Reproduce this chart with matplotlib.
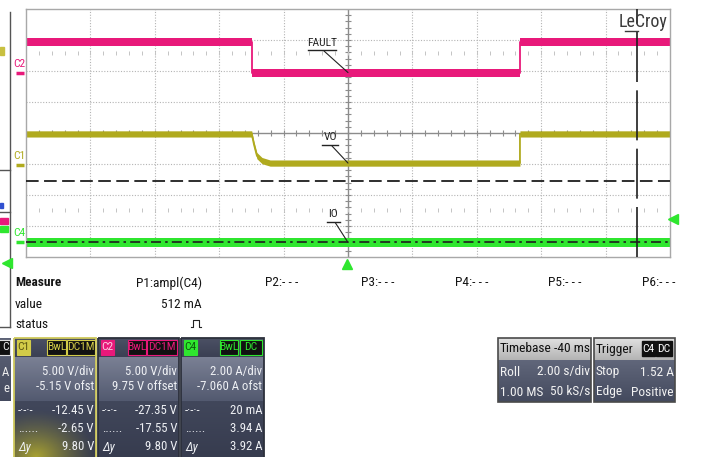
import numpy as np
import matplotlib
matplotlib.use('Agg')
from matplotlib import pyplot as plt
from matplotlib import font_manager
from matplotlib.colors import to_rgb
from matplotlib.patches import Rectangle
from matplotlib.transforms import offset_copy

# narrow face if there is one, otherwise shrink the regular one
installed = {f.name for f in font_manager.fontManager.ttflist}
if 'Liberation Sans Narrow' in installed:
    face, k = 'Liberation Sans Narrow', 0.95
elif 'Roboto Condensed' in installed:
    face, k = 'Roboto Condensed', 0.92
else:
    face, k = 'Liberation Sans', 0.78
plt.rcParams['font.family'] = [face, 'DejaVu Sans']

# channel setup: (units per div, offset)
c1_scale, c1_offset = 5.00, -5.15
c2_scale, c2_offset = 5.00, 9.75
c4_scale, c4_offset = 2.00, -7.060

# C2 = FAULT [V], roll mode, 2 s/div
c2_t = [-20.0, -12.99, -12.99, -4.66, -4.66, 0.0]
c2_v = [5.0, 5.0, 0.0, 0.0, 5.0, 5.0]

# C1 = VO [V]
c1_t = [-20.0, -12.99, -12.92, -12.83, -12.67, -12.42, -4.66, -4.66, 0.0]
c1_v = [5.0, 5.0, 3.3, 1.5, 0.7, 0.3, 0.3, 5.0, 5.0]

# C4 = IO [A]
c4_t = [-20.0, 0.0]
c4_v = [0.0, 0.0]

c1_cursors = [-12.45, -2.65]
t_cursor = -1.02
trig_level = 1.52
trig_time = -10.04

pink = '#e8197a'
olive = '#b0aa1e'
green = '#2fe62f'


def to_div(v, scale, offset):
    return (np.asarray(v, dtype=float) + offset) / scale


W, H = 720, 457
fig = plt.figure(figsize=(7.2, 4.57), dpi=100)

ax = fig.add_axes([26 / W, 1 - 257 / H, 644 / W, 248 / H])
ax.set_xlim(-20, 0)
ax.set_ylim(-4, 4)
ax.set_xticks([])
ax.set_yticks([])
for s in ax.spines.values():
    s.set_color('#a8a8a8')
    s.set_linewidth(1.0)

# graticule
for x in np.arange(-18, 0, 2):
    if x == -10:
        ax.axvline(x, color='#8c8c8c', lw=1.0, zorder=1)
    else:
        ax.axvline(x, color='#b4b4b4', lw=0.8, ls=(0, (1, 1.5)), zorder=1)
for y in range(-3, 4):
    if y == 0:
        ax.axhline(y, color='#8c8c8c', lw=1.0, zorder=1)
    else:
        ax.axhline(y, color='#b4b4b4', lw=0.8, ls=(0, (1, 1.5)), zorder=1)
tx = np.arange(-20, 0.01, 0.4)
ax.plot(tx, np.zeros_like(tx), ls='none', marker='|', ms=5, mew=0.8, color='#8c8c8c', zorder=1)
ty = np.arange(-4, 4.01, 0.2)
ax.plot(np.full_like(ty, -10), ty, ls='none', marker='_', ms=5, mew=0.8, color='#8c8c8c', zorder=1)
for yr in [2.59, -2.47]:
    ax.plot(tx, np.full_like(tx, yr), ls='none', marker='|', ms=3, mew=0.7, color='#c4c4c4', zorder=1)


def draw_trace(t, v, scale, offset, color, half):
    d = to_div(v, scale, offset)
    ax.fill_between(t, d - half, d + half, color=color, lw=0, zorder=2)
    ax.plot(t, d, color=color, lw=1.3, zorder=2)


draw_trace(c2_t, c2_v, c2_scale, c2_offset, pink, 0.13)
draw_trace(c1_t, c1_v, c1_scale, c1_offset, olive, 0.10)
draw_trace(c4_t, c4_v, c4_scale, c4_offset, green, 0.14)

# cursors
ax.axhline(to_div(c1_cursors[0], c1_scale, c1_offset), color='#1e1e1e', lw=1.2,
           ls=(0, (6, 2.5, 1.5, 2.5)), zorder=3)
ax.axhline(to_div(c1_cursors[1], c1_scale, c1_offset), color='#1e1e1e', lw=1.3,
           ls=(0, (7, 3)), zorder=3)
ax.axvline(t_cursor, color='#1e1e1e', lw=1.2, ls=(0, (30, 5)), zorder=3)

# trigger markers
tr_right = offset_copy(ax.transData, fig=fig, x=3, y=0, units='dots')
ax.plot([0.0], [to_div(trig_level, c4_scale, c4_offset)], marker='<', ms=7, color=green,
        transform=tr_right, clip_on=False, zorder=4)
tr_down = offset_copy(ax.transData, fig=fig, x=0, y=-7, units='dots')
ax.plot([trig_time], [-4.0], marker='^', ms=7, color=green, transform=tr_down, clip_on=False, zorder=4)

# channel ground markers and names
for name, sc, off, col in [('C2', c2_scale, c2_offset, pink), ('C1', c1_scale, c1_offset, olive),
                           ('C4', c4_scale, c4_offset, green)]:
    z = to_div(0.0, sc, off)
    tr_m = offset_copy(ax.transData, fig=fig, x=-6, y=0, units='dots')
    ax.plot([-20.0], [z], marker='_', ms=6, mew=2.5, color=col, transform=tr_m, clip_on=False)
    ax.annotate(name, xy=(-20.0, z), xytext=(-7, 9), textcoords='offset pixels', ha='center',
                va='center', fontsize=9 * k, color=col, annotation_clip=False)

# overlay in pixel coordinates
ov = fig.add_axes([0, 0, 1, 1], zorder=5)
ov.patch.set_visible(False)
ov.axis('off')


def vgrad(x0, x1, y0, y1, c_top, c_bot):
    a = np.array(to_rgb(c_top))
    b = np.array(to_rgb(c_bot))
    g = np.linspace(0, 1, 32)[:, None]
    img = (a * (1 - g) + b * g)[:, None, :]
    ov.imshow(img, extent=(x0, x1, y1, y0), origin='upper', aspect='auto',
              interpolation='bilinear', zorder=1)


# trace labels with leaders
for label, tx0, ty0, tip, (ux0, ux1, uy) in [
        ('FAULT', 322, 43, (-10, to_div(0.0, c2_scale, c2_offset)), (308, 336, 50)),
        ('VO', 330, 137, (-10, to_div(0.3, c1_scale, c1_offset)), (322, 338, 145)),
        ('IO', 333, 214, (-10, to_div(0.0, c4_scale, c4_offset)), (327, 340, 222))]:
    ov.text(tx0, ty0, label, ha='center', va='center', fontsize=9 * k, color='#222')
    ov.plot([ux0, ux1], [uy, uy], color='#222', lw=1.0)
    ov.annotate('', xy=tip, xycoords=ax.transData, xytext=((ux0 + ux1) / 2 + 2, uy + 1),
                textcoords='data', arrowprops=dict(arrowstyle='-', color='#222', lw=0.8,
                                                   shrinkA=0, shrinkB=0))

ov.text(668, 22, 'LeCroy', ha='right', va='center', fontsize=14 * k, color='#3a3a3a')
ov.plot([625, 638], [31, 31], color='#3a3a3a', lw=1.0)

# left neighbouring window
ov.plot([10, 10], [12, 327], color='#555', lw=1.0)
for yy in [170, 212, 327]:
    ov.plot([0, 10], [yy, yy], color='#555', lw=1.0)
ov.add_patch(Rectangle((0, 47), 4, 8, color='#c8c040', zorder=2))
ov.add_patch(Rectangle((0, 203), 3, 5, color='#3050d0', zorder=2))
ov.add_patch(Rectangle((0, 218), 8, 6, color=pink, zorder=2))
ov.add_patch(Rectangle((0, 226), 8, 6, color=green, zorder=2))
ov.plot([7], [263], marker='<', ms=7, color=green)

# measurement table
fs_m = 10.5 * k
ov.text(15, 283, 'Measure', fontsize=fs_m, fontweight='bold', va='center', color='#151515')
ov.text(15, 304, 'value', fontsize=fs_m, va='center', color='#151515')
ov.text(15, 325, 'status', fontsize=fs_m, va='center', color='#151515')
ov.text(202, 283, 'P1:ampl(C4)', fontsize=fs_m, va='center', ha='right', color='#151515')
ov.text(202, 304, '512 mA', fontsize=fs_m, va='center', ha='right', color='#151515')
ov.plot([191, 193, 193, 199, 199, 201], [327, 327, 320, 320, 327, 327], color='#222', lw=0.8)
for px, lab in [(265, 'P2:- - -'), (361, 'P3:- - -'), (455, 'P4:- - -'), (548, 'P5:- - -'), (642, 'P6:- - -')]:
    ov.text(px, 283, lab, fontsize=fs_m, va='center', color='#151515')

# channel descriptor boxes
PT, PB = 338, 457
row_y = [372, 386, 411, 429, 447]
fs_p = 10 * k
fs_b = 9 * k


def small_box(x0, x1, text, fc, ec, tc):
    ov.add_patch(Rectangle((x0, 340), x1 - x0, 15, facecolor=fc, edgecolor=ec, lw=0.8, zorder=3))
    ov.text((x0 + x1) / 2, 347.5, text, ha='center', va='center', fontsize=fs_b, color=tc, zorder=4)


def channel_panel(x0, x1, name, col, name_tc, boxes, lines, border, glow=False):
    vgrad(x0, x1, PT, 357, '#4b5064', '#3b4053')
    vgrad(x0, x1, 357, 401, '#7a8094', '#535a70')
    vgrad(x0, x1, 401, PB, '#41475b', '#373c4f')
    if glow:
        xs = np.linspace(x0, x1, 80)
        ys = np.linspace(380, PB, 80)
        gx, gy = np.meshgrid(xs, ys)
        dist = np.hypot(gx - (x0 + 22), (gy - PB) * 1.3)
        alpha = np.clip(1 - dist / 62, 0, 1) ** 1.3 * 0.85
        img = np.zeros((80, 80, 4))
        img[..., :3] = to_rgb('#bdb42c')
        img[..., 3] = alpha
        ov.imshow(img, extent=(x0, x1, PB, 380), origin='upper', aspect='auto', zorder=2)
    ov.add_patch(Rectangle((x0, PT), x1 - x0, PB - PT + 2, fill=False, edgecolor=border, lw=1.3, zorder=5))
    small_box(x0 + 3, x0 + 16, name, col, col, name_tc)
    for bx0, bx1, bt in boxes:
        small_box(bx0, bx1, bt, '#111', col, col)
    for i, (left, right) in enumerate(lines):
        ov.text(x1 - 2, row_y[i], right, ha='right', va='center', fontsize=fs_p, color='#eef0f4', zorder=4)
        if left:
            ov.text(x0 + 4, row_y[i], left, ha='left', va='center', fontsize=fs_p, color='#eef0f4',
                    style='italic' if left == 'Δy' else 'normal', zorder=4)


channel_panel(14, 96, 'C1', '#d2cb48', '#5a5510', [(47, 66, 'BwL'), (67, 95, 'DC1M')],
              [('', '5.00 V/div'), ('', '-5.15 V ofst'), ('-·-·-', '-12.45 V'),
               ('......', '-2.65 V'), ('Δy', '9.80 V')], '#cfc95c', glow=True)
channel_panel(98, 179, 'C2', pink, '#ffd0e4', [(128, 146, 'BwL'), (147, 177, 'DC1M')],
              [('', '5.00 V/div'), ('', '9.75 V offset'), ('-·-·-', '-27.35 V'),
               ('......', '-17.55 V'), ('Δy', '9.80 V')], '#2c303c')
channel_panel(181, 264, 'C4', green, '#0c5a0c', [(220, 238, 'BwL'), (240, 262, 'DC')],
              [('', '2.00 A/div'), ('', '-7.060 A ofst'), ('-·-·-', '20 mA'),
               ('......', '3.94 A'), ('Δy', '3.92 A')], '#2c303c')

# partial descriptor at the left edge
vgrad(0, 11, PT, 401, '#5d6377', '#444a5e')
ov.add_patch(Rectangle((-5, 340), 15, 15, facecolor='#111', edgecolor='#ddd', lw=0.8, zorder=3))
ov.text(9, 347.5, 'C', ha='right', va='center', fontsize=fs_b, color='#eee', zorder=4)
ov.text(9, 372, 'A', ha='right', va='center', fontsize=fs_p, color='#eee', zorder=4)
ov.text(9, 388, 'e', ha='right', va='center', fontsize=fs_p, color='#eee', zorder=4)


def info_panel(x0, x1, head_l, head_r, rows):
    vgrad(x0, x1, PT, 360, '#e0e0e0', '#b4b4b4')
    vgrad(x0, x1, 360, 402, '#60667a', '#444a5e')
    ov.add_patch(Rectangle((x0, PT), x1 - x0, 402 - PT, fill=False, edgecolor='#4a4a4a', lw=1.2, zorder=5))
    ov.text(x0 + 2, 349, head_l, ha='left', va='center', fontsize=fs_m, color='#111', zorder=4)
    if head_r:
        ov.text(x1 - 1, 349, head_r, ha='right', va='center', fontsize=fs_m, color='#111', zorder=4)
    for (l, r), yy in zip(rows, [372, 392]):
        ov.text(x0 + 2, yy, l, ha='left', va='center', fontsize=fs_m, color='#f2f2f2', zorder=4)
        ov.text(x1 - 1, yy, r, ha='right', va='center', fontsize=fs_m, color='#f2f2f2', zorder=4)


info_panel(498, 591, 'Timebase', '-40 ms', [('Roll', '2.00 s/div'), ('1.00 MS', '50 kS/s')])
info_panel(594, 675, 'Trigger', '', [('Stop', '1.52 A'), ('Edge', 'Positive')])
for bx0, bx1, bt in [(642, 655, 'C4'), (656, 672, 'DC')]:
    ov.add_patch(Rectangle((bx0, 341), bx1 - bx0, 15, facecolor='#111', edgecolor='#111', zorder=3))
    ov.text((bx0 + bx1) / 2, 348.5, bt, ha='center', va='center', fontsize=fs_b, color='#fff', zorder=4)

ov.set_xlim(0, W)
ov.set_ylim(H, 0)

fig.savefig('out.png', dpi=100)
